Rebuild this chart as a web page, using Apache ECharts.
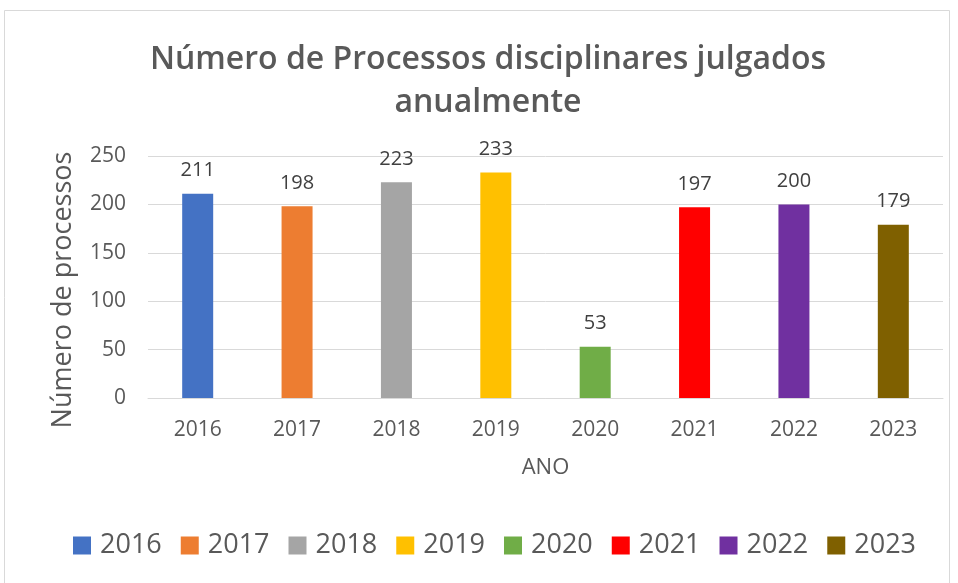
<!DOCTYPE html>
<html>
<head>
<meta charset="utf-8">
<script src="https://cdn.jsdelivr.net/npm/echarts@6/dist/echarts.min.js"></script>
<style>
html,body{margin:0;padding:0;background:#fff;}
#chart{width:958px;height:583px;}
</style>
</head>
<body>
<div id="chart"></div>
<script>
const categories = ['2016','2017','2018','2019','2020','2021','2022','2023'];
const values = [211, 198, 223, 233, 53, 197, 200, 179];
const colors = ['#4472C4','#ED7D31','#A5A5A5','#FFC000','#70AD47','#FF0000','#7030A0','#7F6000'];
const yTicks = [0, 50, 100, 150, 200, 250];

const FONT = '"Open Sans", sans-serif';
const TXT = '#595959';

const chart = echarts.init(document.getElementById('chart'));

const series = categories.map((c, i) => ({
  name: c,
  type: 'bar',
  barWidth: 31,
  barGap: '-100%',
  data: categories.map((_, j) => j === i ? values[i] : '-'),
  itemStyle: { color: colors[i] },
  label: {
    show: true,
    position: 'top',
    distance: 13,
    color: '#404040',
    fontFamily: FONT,
    fontSize: 20
  }
}));

chart.setOption({
  backgroundColor: '#fff',
  animation: false,
  graphic: [{
    type: 'rect',
    shape: { x: 4.5, y: 10.5, width: 945, height: 580 },
    style: { fill: 'none', stroke: '#d9d9d9', lineWidth: 1 },
    silent: true
  }],
  title: {
    text: 'Número de Processos disciplinares julgados\nanualmente',
    left: 483,
    top: 33,
    padding: 5,
    textAlign: 'center',
    textStyle: {
      fontFamily: FONT,
      fontWeight: 600,
      fontSize: 32,
      lineHeight: 43,
      color: TXT
    }
  },
  legend: {
    data: categories,
    bottom: 19,
    left: 68,
    itemWidth: 18,
    itemHeight: 18,
    itemGap: 19,
    icon: 'rect',
    textStyle: { fontFamily: FONT, fontSize: 27, color: TXT, padding: [0, 0, 0, 4] }
  },
  grid: { left: 148, right: 15, top: 156, bottom: 185 },
  xAxis: {
    type: 'category',
    data: categories,
    name: 'ANO',
    nameLocation: 'middle',
    nameGap: 59,
    nameTextStyle: { fontFamily: FONT, fontSize: 22, color: TXT },
    axisLine: { lineStyle: { color: '#d9d9d9', width: 1 } },
    axisTick: { show: false },
    axisLabel: { fontFamily: FONT, fontSize: 21, color: TXT, margin: 22 }
  },
  yAxis: {
    type: 'value',
    min: 0,
    max: 250,
    interval: 50,
    name: 'Número de processos',
    nameLocation: 'middle',
    nameRotate: 90,
    nameGap: 71,
    nameTextStyle: { fontFamily: FONT, fontSize: 27, color: TXT, padding: [0, 26, 0, 0] },
    axisLine: { show: false },
    axisTick: { show: false },
    splitLine: { lineStyle: { color: '#d9d9d9', width: 1 } },
    axisLabel: {
      fontFamily: FONT, fontSize: 21, color: TXT, margin: 22,
      formatter: v => yTicks.includes(v) ? String(v) : ''
    }
  },
  series: series
});
</script>
</body>
</html>
